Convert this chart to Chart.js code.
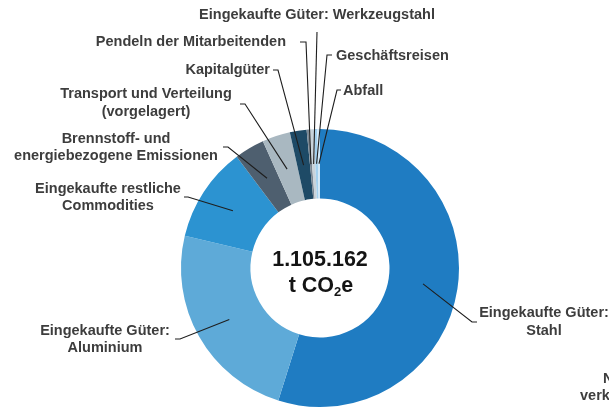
<!DOCTYPE html>
<html>
<head>
<meta charset="utf-8">
<script src="https://cdn.jsdelivr.net/npm/chart.js@4"></script>
<style>
html,body{margin:0;padding:0;background:#fff;}
canvas{display:block;}
</style>
</head>
<body>
<canvas id="c" width="609" height="409"></canvas>
<script>
// ---- data ----
const categories = [
  'Eingekaufte Güter: Stahl',
  'Eingekaufte Güter: Aluminium',
  'Eingekaufte restliche Commodities',
  'Brennstoff- und energiebezogene Emissionen',
  'Transport und Verteilung (vorgelagert)',
  'Kapitalgüter',
  'Pendeln der Mitarbeitenden',
  'Eingekaufte Güter: Werkzeugstahl',
  'Geschäftsreisen',
  'Abfall'
];
const values = [606162, 264000, 122000, 38500, 36000, 21500, 3500, 5500, 4500, 3500];
const labelLines = [
  ['Eingekaufte Güter:', 'Stahl'],
  ['Eingekaufte Güter:', 'Aluminium'],
  ['Eingekaufte restliche', 'Commodities'],
  ['Brennstoff- und', 'energiebezogene Emissionen'],
  ['Transport und Verteilung', '(vorgelagert)'],
  ['Kapitalgüter'],
  ['Pendeln der Mitarbeitenden'],
  ['Eingekaufte Güter: Werkzeugstahl'],
  ['Geschäftsreisen'],
  ['Abfall']
];
const centerLine1 = '1.105.162';
const centerUnit = ['t CO', '2', 'e'];
const colors = ['#1f7cc2', '#5eaad8', '#2c93d1', '#4e5f6f', '#a9b8c1', '#1e4a66', '#7b8894', '#c9d3da', '#a3d0ee', '#d0e7f7'];

// ---- layout of labels (positions, not data) ----
const layout = [
  {tx: 544, ty: [313, 331], align: 'center', elbow: [472, 322], end: [477, 322]},
  {tx: 105, ty: [331, 348], align: 'center', elbow: [180, 339], end: [175, 339]},
  {tx: 108, ty: [189, 206], align: 'center', elbow: [188, 197], end: [184, 197]},
  {tx: 116, ty: [139, 156], align: 'center', elbow: [228, 147], end: [223, 147]},
  {tx: 146, ty: [94, 111.5], align: 'center', elbow: [245, 104], end: [240, 104]},
  {tx: 270, ty: [70], align: 'right', elbow: [278, 70], end: [273, 70]},
  {tx: 286, ty: [42], align: 'right', elbow: [306, 42], end: [300, 42]},
  {tx: 317, ty: [15], align: 'center', elbow: [317, 32], end: [317, 32]},
  {tx: 336, ty: [56], align: 'left', elbow: [327, 55], end: [332, 55]},
  {tx: 343, ty: [91], align: 'left', elbow: [337, 90], end: [341, 90]}
];

const FONT = 'bold 14.5px "Liberation Sans", Arial, sans-serif';

const labelPlugin = {
  id: 'leaderLabels',
  afterDraw(chart) {
    const ctx = chart.ctx;
    const meta = chart.getDatasetMeta(0);
    ctx.save();
    // leader lines
    ctx.strokeStyle = '#1e1e1e';
    ctx.lineWidth = 1.1;
    meta.data.forEach((arc, i) => {
      const p = arc.getProps(['x', 'y', 'startAngle', 'endAngle', 'innerRadius', 'outerRadius'], true);
      const mid = (p.startAngle + p.endAngle) / 2;
      const r = (p.innerRadius + p.outerRadius) / 2;
      const sx = p.x + Math.cos(mid) * r;
      const sy = p.y + Math.sin(mid) * r;
      const L = layout[i];
      ctx.beginPath();
      ctx.moveTo(sx, sy);
      ctx.lineTo(L.elbow[0], L.elbow[1]);
      ctx.lineTo(L.end[0], L.end[1]);
      ctx.stroke();
    });
    // labels
    ctx.font = FONT;
    ctx.fillStyle = '#3d3d3d';
    ctx.textBaseline = 'middle';
    labelLines.forEach((lines, i) => {
      const L = layout[i];
      ctx.textAlign = L.align;
      lines.forEach((t, j) => ctx.fillText(t, L.tx, L.ty[j]));
    });
    // cut-off neighbour label at right edge
    ctx.textAlign = 'left';
    ctx.fillText('Nutzung der', 603, 379);
    ctx.fillText('verkauften Produkte', 580, 396);

    // centre text
    const cx = meta.data[0].x, cy = meta.data[0].y;
    ctx.fillStyle = '#141414';
    ctx.textAlign = 'center';
    ctx.font = 'bold 21.5px "Liberation Sans", Arial, sans-serif';
    ctx.fillText(centerLine1, cx, cy - 8);
    const big = 'bold 21.5px "Liberation Sans", Arial, sans-serif';
    const small = 'bold 13px "Liberation Sans", Arial, sans-serif';
    ctx.font = big; const w1 = ctx.measureText(centerUnit[0]).width; const w3 = ctx.measureText(centerUnit[2]).width;
    ctx.font = small; const w2 = ctx.measureText(centerUnit[1]).width;
    let x = cx - (w1 + w2 + w3) / 2 + 1;
    const y2 = cy + 18;
    ctx.textAlign = 'left';
    ctx.font = big; ctx.fillText(centerUnit[0], x, y2); x += w1;
    ctx.font = small; ctx.fillText(centerUnit[1], x, y2 + 6); x += w2;
    ctx.font = big; ctx.fillText(centerUnit[2], x, y2);
    ctx.restore();
  }
};

new Chart(document.getElementById('c'), {
  type: 'doughnut',
  data: {
    labels: categories,
    datasets: [{
      data: values,
      backgroundColor: colors,
      borderWidth: 0
    }]
  },
  options: {
    responsive: false,
    devicePixelRatio: 1,
    animation: false,
    cutout: '50%',
    layout: {padding: {left: 181, right: 150, top: 129, bottom: 2}},
    plugins: {legend: {display: false}, tooltip: {enabled: false}}
  },
  plugins: [labelPlugin]
});
</script>
</body>
</html>
